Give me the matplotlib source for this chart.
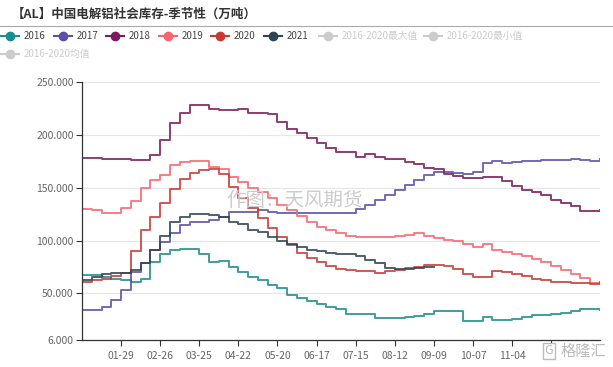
import numpy as np
import matplotlib
matplotlib.use("Agg")
import matplotlib.pyplot as plt
from matplotlib.lines import Line2D
from matplotlib.ticker import FuncFormatter

plt.rcParams['font.family'] = ['Noto Sans CJK SC', 'DejaVu Sans']

# weekly readings, in 万吨, starting 01-01
s2016 = [67.5, 67.5, 66, 64, 62.5, 61, 64, 80, 87, 91, 92.5, 92.5, 87, 80,
         81, 75, 70.5, 66, 62.5, 58, 55, 49, 45.5, 43, 40.5, 37.5, 35, 31,
         31, 31, 27, 26.5, 27, 28, 29, 31, 33, 33.5, 33, 24,
         23.5, 28, 25, 25, 26, 28, 29.5, 29.5, 31, 31.5, 33.5, 35, 35, 34]
s2017 = [34, 34, 37.5, 44, 53, 70, 79, 91, 98.7, 107, 115, 118, 118, 119.5,
         122.6, 127, 127, 127, 128.5, 127, 126, 126, 126, 126, 126, 126, 126, 126,
         130, 134, 138, 143, 148, 152.6, 157, 162, 165, 165, 164, 163,
         165, 173, 175.5, 173, 174, 175, 175.5, 176, 176, 176.5, 177, 176, 175.5, 177.5]
s2018 = [178, 178, 177, 177, 177, 176, 176, 181, 195, 211, 221, 228, 228, 224,
         223.5, 223.5, 224.5, 221, 221, 220, 212, 206, 202, 197, 192, 188, 184, 184,
         179, 182, 179, 177, 177, 174, 172, 169, 168, 163, 161, 159,
         159, 160.5, 160, 156, 152, 148, 146, 143, 138, 136, 133, 128, 128, 128.5]
s2019 = [130, 129, 126, 126, 131, 137, 150, 157, 162, 171.5, 174.7, 175, 175, 170,
         168, 160, 155, 150, 146, 140, 134, 129, 123, 118, 113, 110, 107, 104,
         103.5, 103, 103, 103.5, 104, 105, 107, 104, 102, 100.5, 100, 97,
         94, 97, 91, 89, 87, 85, 83, 80, 76, 72, 68, 65, 60, 60]
s2020 = [61, 62.5, 64, 67, 69, 90, 110, 122, 136, 149, 158, 164, 167, 168,
         163, 151, 140, 131, 121, 112, 103, 96, 88, 84, 80, 76, 73, 72,
         71.5, 71.5, 69.5, 71.5, 72, 74, 75.5, 77, 77, 76, 73, 68,
         65.5, 66, 71.5, 70, 68.5, 67, 64, 62.5, 61, 60.5, 60, 59.5, 59, 61]
s2021 = [63, 66, 68, 69, 69.5, 72, 78.5, 91, 104, 118, 122.6, 125, 125, 124,
         122.5, 118, 116, 110, 108, 103, 100, 97, 94, 91, 90, 88, 87.5, 87,
         85, 82, 78.5, 74, 73, 73.5, 74.5, 75, 75]

years = ['2016', '2017', '2018', '2019', '2020', '2021']
series = [s2016, s2017, s2018, s2019, s2020, s2021]
colors = ['#1b8c8f', '#5b4fa8', '#7a1b5d', '#f7656e', '#c83a32', '#2f4554']
hidden = ['2016-2020最大值', '2016-2020最小值', '2016-2020均值']

# last tick (12-02) sits under the 格隆汇 logo in the reference
tick_days = [28, 56, 84, 112, 140, 168, 196, 224, 252, 280, 308, 336]
tick_labels = ['01-29', '02-26', '03-25', '04-22', '05-20', '06-17',
               '07-15', '08-12', '09-09', '10-07', '11-04', '']
y_ticks = [6, 50, 100, 150, 200, 250]

fig = plt.figure(figsize=(6.13, 3.67), dpi=100)
ax = fig.add_axes([82 / 613, 27 / 367, 518 / 613, 258 / 367])

for name, vals, c in zip(years, series, colors):
    days = np.arange(len(vals)) * 7
    ax.plot(days, vals, drawstyle='steps-post', color=c, lw=1.4, alpha=0.85)

ax.set_xlim(0, 371)
ax.set_ylim(6, 250)
ax.set_yticks(y_ticks)
ax.yaxis.set_major_formatter(FuncFormatter(lambda v, p: '%.3f' % v))
ax.set_xticks(tick_days)
ax.set_xticklabels(tick_labels)
ax.tick_params(colors='#333333', labelcolor='#666666', labelsize=7.5, length=4, width=0.8)
ax.tick_params(axis='y', pad=2)
ax.tick_params(axis='x', pad=4)
ax.grid(axis='y', color='#e6e6e6', lw=0.8)
ax.set_axisbelow(True)
for s in ['top', 'right']:
    ax.spines[s].set_visible(False)
for s in ['left', 'bottom']:
    ax.spines[s].set_color('#333333')
    ax.spines[s].set_linewidth(0.9)

# title and separator
fig.text(12 / 613, 1 - 14 / 367, '【AL】中国电解铝社会库存-季节性（万吨）', fontsize=9,
         fontweight='bold', color='#333333', va='center', ha='left')
fig.add_artist(Line2D([0, 1], [1 - 26 / 367, 1 - 26 / 367], color='#aaaaaa', lw=0.8))

# legend, drawn by hand to keep the two-row layout
items = list(zip(years, colors)) + [(h, '#cccccc') for h in hidden]
pos = [(10, 36), (63, 36), (115, 36), (168, 36), (220, 36), (273, 36), (328, 36), (433, 36), (10, 54)]
for (label, c), (px, py) in zip(items, pos):
    yy = 1 - py / 367
    fig.add_artist(Line2D([(px - 9) / 613, (px + 9) / 613], [yy, yy], color=c, lw=1.5))
    fig.add_artist(Line2D([px / 613], [yy], color=c, marker='o', markersize=6, lw=0))
    fig.text((px + 14) / 613, yy, label, fontsize=7, va='center', ha='left',
             color='#444444' if c != '#cccccc' else '#cccccc')

# watermarks
fig.text(295 / 613, 1 - 200 / 367, '作图：天风期货', fontsize=14, color='#cccccc',
         ha='center', va='center')
fig.text(549 / 613, 1 - 351 / 367, 'G', fontsize=9, color='#bbbbbb', ha='center', va='center',
         bbox=dict(fc='white', ec='#bbbbbb', lw=1, boxstyle='square,pad=0.15'))
fig.text(583 / 613, 1 - 351 / 367, '格隆汇', fontsize=11, color='#bbbbbb',
         ha='center', va='center')

fig.savefig('out.png', dpi=100)
